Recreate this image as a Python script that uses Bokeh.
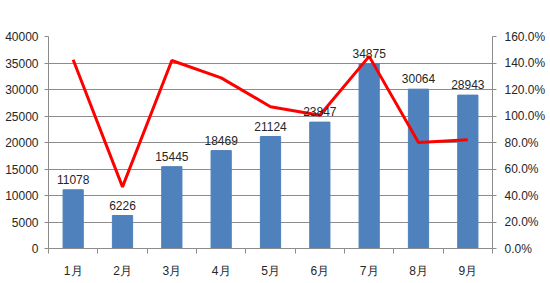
from bokeh.plotting import figure
from bokeh.models import Range1d, LinearAxis, FixedTicker, PrintfTickFormatter, ColumnDataSource
from bokeh.core.properties import value
from bokeh.embed import file_html
from bokeh.resources import INLINE

categories = ["1月", "2月", "3月", "4月", "5月", "6月", "7月", "8月", "9月"]
sales = [11078, 6226, 15445, 18469, 21124, 23847, 34875, 30064, 28943]
growth_pct = [142.5, 46.5, 141.9, 128.8, 107.0, 100.5, 145.0, 80.0, 82.0]
left_ticks = [0, 5000, 10000, 15000, 20000, 25000, 30000, 35000, 40000]
right_ticks = [0, 20, 40, 60, 80, 100, 120, 140, 160]

FONT = "Liberation Sans"
GRAY = "#8c8c8c"

xs = list(range(1, len(categories) + 1))
src = ColumnDataSource(dict(x=xs, sales=sales, pct=growth_pct,
                            lbl=[str(v) for v in sales]))

p = figure(width=550, height=283, output_backend="svg", toolbar_location=None,
           x_range=Range1d(0.5, len(categories) + 0.5), y_range=Range1d(0, 40000),
           min_border_left=48, min_border_right=58, min_border_top=36, min_border_bottom=35,
           outline_line_color=None, background_fill_color="white", border_fill_color="white")
p.extra_y_ranges = {"pct": Range1d(0, 160)}

p.vbar(x="x", top="sales", width=0.41, source=src, color="#4F81BD")
p.line(x="x", y="pct", source=src, y_range_name="pct", line_color="#FF0000", line_width=3)
p.text(x="x", y="sales", text="lbl", source=src, text_align="center", text_baseline="bottom",
       y_offset=-6, text_font=value(FONT), text_font_size="12px", text_color="#262626")

# axes
p.xaxis.ticker = FixedTicker(ticks=xs, minor_ticks=[x - 0.5 for x in xs] + [len(xs) + 0.5])
p.xaxis.major_label_overrides = {x: c for x, c in zip(xs, categories)}
p.xaxis.major_tick_line_color = None
p.xaxis.minor_tick_out = 5
p.xaxis.minor_tick_in = 0
p.xaxis.minor_tick_line_color = GRAY
p.xaxis.axis_line_color = GRAY
p.xaxis.major_label_standoff = 9

p.yaxis.ticker = FixedTicker(ticks=left_ticks)
p.yaxis.axis_line_color = GRAY
p.yaxis.major_tick_line_color = GRAY
p.yaxis.major_tick_out = 4
p.yaxis.major_tick_in = 0
p.yaxis.minor_tick_line_color = None
p.yaxis.major_label_standoff = 6

ry = LinearAxis(y_range_name="pct", ticker=FixedTicker(ticks=right_ticks),
                formatter=PrintfTickFormatter(format="%.1f%%"))
ry.axis_line_color = GRAY
ry.major_tick_line_color = GRAY
ry.major_tick_out = 4
ry.major_tick_in = 0
ry.minor_tick_line_color = None
ry.major_label_standoff = 8
p.add_layout(ry, "right")

for ax in [p.xaxis[0], p.yaxis[0], ry]:
    ax.major_label_text_font = FONT
    ax.major_label_text_font_size = "12px"
    ax.major_label_text_color = "#262626"

p.xgrid.grid_line_color = None
p.ygrid.ticker = FixedTicker(ticks=left_ticks)
p.ygrid.grid_line_color = GRAY
p.ygrid.grid_line_width = 1

open("out.html", "w").write(file_html(p, INLINE))
